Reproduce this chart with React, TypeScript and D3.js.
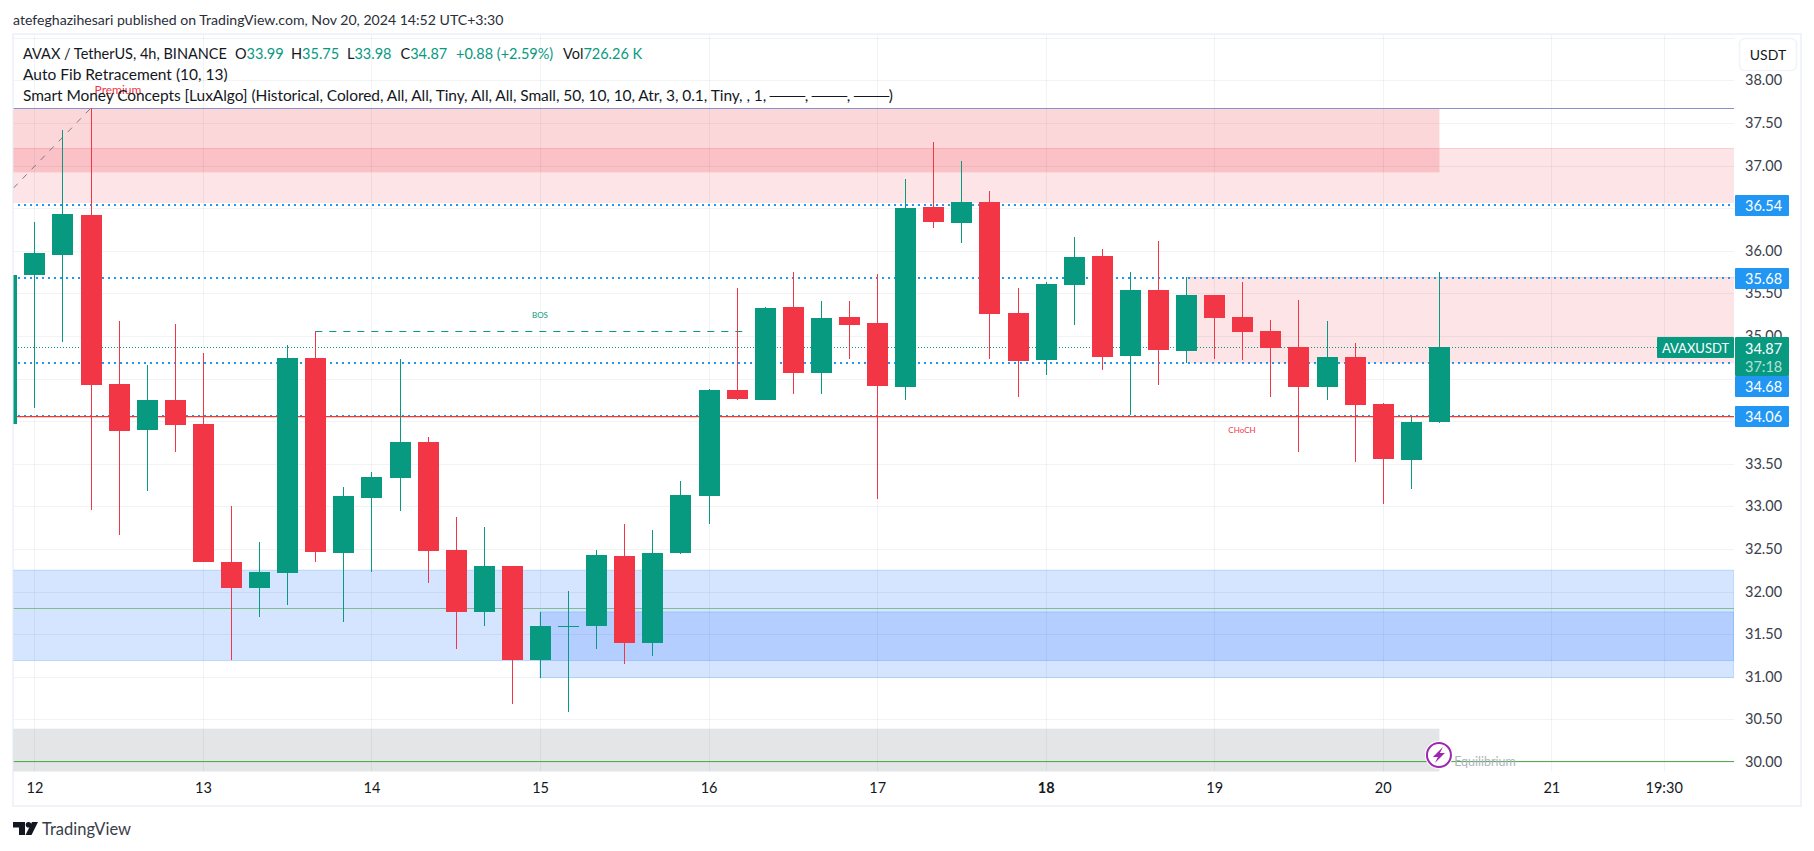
import * as d3 from 'd3';
import { useEffect, useRef } from 'react';

// 4h bars, barIndex 0 is the open of the 12th
const firstBar = -1;
const opens = [33.97, 35.71, 35.95, 36.42, 34.44, 33.90, 34.25, 33.97, 32.35, 32.04, 32.22, 34.74, 32.45, 33.10, 33.33, 33.75, 32.49, 31.76, 32.30, 31.20, 31.59, 31.59, 32.42, 31.40, 32.45, 33.12, 34.37, 34.25, 35.34, 34.56, 35.22, 35.15, 34.40, 36.51, 36.33, 36.57, 35.27, 34.72, 35.60, 35.94, 34.76, 35.54, 34.82, 35.48, 35.22, 35.06, 34.87, 34.40, 34.75, 34.20, 33.54, 33.99];
const highs = [35.71, 36.34, 37.42, 37.67, 35.17, 34.66, 35.14, 34.80, 33.00, 32.58, 34.89, 35.06, 33.23, 33.40, 34.73, 33.81, 32.87, 32.76, 32.30, 31.76, 32.01, 32.49, 32.79, 32.72, 33.30, 34.38, 35.56, 35.34, 35.75, 35.41, 35.41, 35.73, 36.84, 37.28, 37.05, 36.70, 35.56, 35.63, 36.16, 36.02, 35.75, 36.11, 35.69, 35.48, 35.63, 35.19, 35.42, 35.17, 34.92, 34.21, 34.05, 35.75];
const lows = [33.97, 34.15, 34.93, 32.96, 32.66, 33.18, 33.64, 32.35, 31.20, 31.70, 31.84, 32.35, 31.64, 32.23, 32.94, 32.10, 31.33, 31.59, 30.68, 30.98, 30.59, 31.33, 31.15, 31.24, 32.44, 32.79, 34.25, 34.25, 34.32, 34.32, 34.73, 33.09, 34.25, 36.27, 36.09, 34.73, 34.28, 34.54, 35.13, 34.60, 34.07, 34.42, 34.68, 34.73, 34.72, 34.28, 33.64, 34.25, 33.52, 33.03, 33.20, 33.98];
const closes = [35.71, 35.97, 36.43, 34.42, 33.88, 34.25, 33.95, 32.35, 32.04, 32.23, 34.74, 32.46, 33.12, 33.34, 33.75, 32.48, 31.76, 32.30, 31.20, 31.59, 31.60, 32.43, 31.40, 32.45, 33.13, 34.37, 34.26, 35.33, 34.56, 35.21, 35.13, 34.41, 36.50, 36.34, 36.57, 35.26, 34.71, 35.61, 35.93, 34.75, 35.54, 34.83, 35.48, 35.21, 35.05, 34.86, 34.40, 34.75, 34.19, 33.56, 33.99, 34.87];

const priceTicks = [38.5, 38, 37.5, 37, 36.5, 36, 35.5, 35, 34.5, 34, 33.5, 33, 32.5, 32, 31.5, 31, 30.5, 30];
const priceLabels = [38, 37.5, 37, 36, 35.5, 35, 33.5, 33, 32.5, 32, 31.5, 31, 30.5, 30];
const timeBars = [0, 6, 12, 18, 24, 30, 36, 42, 48, 54, 58];
const timeLabels = ['12', '13', '14', '15', '16', '17', '18', '19', '20', '21', '19:30'];

const fibLevels = [36.54, 35.68, 34.68, 34.06];
const lastPrice = 34.87;
const swingHigh = 37.67;
const swingLine = 31.81;
const equilibrium = 30.01;
const chochLevel = 34.06;
const bosLevel = 35.06;

// zones: [fromBar, toBar | null, top, bottom]
const redZones = [
  [-2, 50, 37.67, 36.92, 0.2],
  [-2, null, 37.205, 36.56, 0.134],
  [41, null, 35.69, 34.68, 0.134],
];
const blueZones = [
  [-2, null, 32.25, 31.19],
  [18, null, 31.76, 30.99],
];
const greyZone = [-2, 50, 30.39, 29.5];

const legendMain = 'AVAX / TetherUS, 4h, BINANCE';
const legendOhlc = [['O', '33.99', 235], ['H', '35.75', 291], ['L', '33.98', 347], ['C', '34.87', 400.5]];
const legendChange = '+0.88 (+2.59%)';
const legendFib = 'Auto Fib Retracement (10, 13)';
const legendSmc = 'Smart Money Concepts [LuxAlgo] (Historical, Colored, All, All, Tiny, All, All, Small, 50, 10, 10, Atr, 3, 0.1, Tiny, , 1, ───, ───, ───)';

const UP = '#089981';
const DOWN = '#f23645';
const FONT = 'Lato, "Open Sans", sans-serif';

const App = () => {
  const ref = useRef<SVGSVGElement>(null);

  useEffect(() => {
    const svg = d3.select(ref.current);
    svg.selectAll('*').remove();

    const paneL = 13.5, paneR = 1734, paneT = 35, paneB = 771.5;
    const x = d3.scaleLinear().domain([0, 54]).range([34.4, 1551.3]);
    const y = d3.scaleLinear().domain([38, 30]).range([80.3, 761.9]);

    svg.append('rect').attr('width', 1814).attr('height', 851).attr('fill', '#fff');
    svg.append('rect').attr('x', 13).attr('y', 34).attr('width', 1788).attr('height', 772)
      .attr('fill', '#fff').attr('stroke', '#f0f3fa').attr('stroke-width', 2);

    svg.append('clipPath').attr('id', 'pane').append('rect')
      .attr('x', paneL).attr('y', paneT).attr('width', paneR - paneL).attr('height', paneB - paneT);

    svg.append('text').attr('x', 13).attr('y', 25).attr('font-size', 14.1).attr('fill', '#2a2e39')
      .attr('font-family', FONT)
      .text('atefeghazihesari published on TradingView.com, Nov 20, 2024 14:52 UTC+3:30');

    const chart = svg.append('g').attr('clip-path', 'url(#pane)');

    // smart money zones
    const zoneX2 = (to: number | null) => (to === null ? paneR : x(to) + 0.5);
    chart.append('g').selectAll('rect').data(redZones).join('rect')
      .attr('x', d => x(d[0] as number)).attr('y', d => y(d[2] as number))
      .attr('width', d => zoneX2(d[1]) - x(d[0] as number))
      .attr('height', d => y(d[3] as number) - y(d[2] as number))
      .attr('fill', DOWN).attr('fill-opacity', d => d[4]);
    chart.append('g').selectAll('line').data(redZones.slice(1)).join('line')
      .attr('x1', paneL).attr('x2', paneR)
      .attr('y1', d => Math.round(y(d[2] as number)) + 0.5).attr('y2', d => Math.round(y(d[2] as number)) + 0.5)
      .attr('stroke', DOWN).attr('stroke-opacity', 0.14)
      .filter((_, i) => i === 1).attr('x1', x(41));
    chart.append('g').selectAll('rect').data(blueZones).join('rect')
      .attr('x', d => x(d[0] as number)).attr('y', d => y(d[2] as number))
      .attr('width', d => zoneX2(d[1]) - x(d[0] as number))
      .attr('height', d => y(d[3] as number) - y(d[2] as number))
      .attr('fill', '#1f70ff').attr('fill-opacity', 0.19)
      .attr('stroke', '#2196f3').attr('stroke-opacity', 0.25);
    chart.append('rect')
      .attr('x', x(greyZone[0])).attr('y', y(greyZone[2]))
      .attr('width', x(greyZone[1]) + 0.5 - x(greyZone[0]))
      .attr('height', y(greyZone[3]) - y(greyZone[2]))
      .attr('fill', '#787b86').attr('fill-opacity', 0.2);

    // grid sits over the zones, it shows through them in the original
    chart.append('g').selectAll('line').data(priceTicks).join('line')
      .attr('x1', paneL).attr('x2', paneR)
      .attr('y1', d => Math.round(y(d)) + 0.5).attr('y2', d => Math.round(y(d)) + 0.5)
      .attr('stroke', '#2a2e39').attr('stroke-opacity', 0.06);
    chart.append('g').selectAll('line').data(timeBars).join('line')
      .attr('y1', paneT).attr('y2', paneB)
      .attr('x1', d => Math.round(x(d)) + 0.5).attr('x2', d => Math.round(x(d)) + 0.5)
      .attr('stroke', '#2a2e39').attr('stroke-opacity', 0.06);

    // structure lines
    const hline = (p: number, color: string, w: number, dash: string | null, from: number = paneL) =>
      chart.append('line').attr('x1', from).attr('x2', paneR)
        .attr('y1', Math.round(y(p)) + (w === 2 ? 0 : 0.5)).attr('y2', Math.round(y(p)) + (w === 2 ? 0 : 0.5))
        .attr('stroke', color).attr('stroke-width', w).attr('stroke-dasharray', dash);

    hline(swingHigh, '#8594c4', 1, null);
    hline(swingLine, '#83bd8b', 1, null);
    hline(equilibrium, '#4caf50', 1, null);
    hline(lastPrice, UP, 1, '1 2', 18);
    fibLevels.slice(0, 3).forEach(p => hline(p, '#2196f3', 2, '2 4', 18));
    chart.append('line').attr('x1', 18).attr('x2', paneR)
      .attr('y1', Math.round(y(chochLevel)) - 0.5).attr('y2', Math.round(y(chochLevel)) - 0.5)
      .attr('stroke', '#2196f3').attr('stroke-width', 1).attr('stroke-dasharray', '2 4');
    chart.append('line').attr('x1', 17).attr('x2', paneR)
      .attr('y1', Math.round(y(chochLevel)) + 0.6).attr('y2', Math.round(y(chochLevel)) + 0.6)
      .attr('stroke', '#f9352f').attr('stroke-width', 1.3);

    chart.append('line')
      .attr('x1', paneL).attr('y1', 188).attr('x2', x(2)).attr('y2', y(swingHigh))
      .attr('stroke', '#787b86').attr('stroke-dasharray', '6 7');
    chart.append('line')
      .attr('x1', x(10)).attr('x2', x(25.4))
      .attr('y1', Math.round(y(bosLevel)) + 0.5).attr('y2', Math.round(y(bosLevel)) + 0.5)
      .attr('stroke', UP).attr('stroke-dasharray', '7 7');

    // candles
    const bars = opens.map((o, i) => ({ bar: firstBar + i, o, h: highs[i], l: lows[i], c: closes[i] }));
    const colorOf = d => (closes[d.bar - firstBar] >= d.o ? UP : DOWN);
    const g = chart.append('g').attr('shape-rendering', 'crispEdges');
    g.selectAll('line').data(bars).join('line')
      .attr('x1', d => Math.round(x(d.bar)) + 0.5).attr('x2', d => Math.round(x(d.bar)) + 0.5)
      .attr('y1', d => y(d.h)).attr('y2', d => y(d.l))
      .attr('stroke', colorOf);
    g.selectAll('rect').data(bars).join('rect')
      .attr('x', d => Math.round(x(d.bar)) - 10).attr('width', 21)
      .attr('y', d => Math.round(y(Math.max(d.o, d.c))))
      .attr('height', d => Math.max(1, Math.round(y(Math.min(d.o, d.c))) - Math.round(y(Math.max(d.o, d.c)))))
      .attr('fill', colorOf);

    // chart labels
    const label = (tx: number, ty: number, s: string, size: number, fill: string) =>
      svg.append('text').attr('x', tx).attr('y', ty).attr('text-anchor', 'middle')
        .attr('dominant-baseline', 'central').attr('font-family', FONT)
        .attr('font-size', size).attr('fill', fill).text(s);
    label(118, 89, 'Premium', 12, '#f23645');
    label(540, 315, 'BOS', 8, UP);
    label(1242, 430, 'CHoCH', 8, '#f23645');
    label(1485, 761, 'Equilibrium', 12.5, '#b2b5be');

    // earnings style marker on the last bar
    const marker = svg.append('g').attr('transform', `translate(${x(50)},${755})`);
    marker.append('circle').attr('r', 14).attr('fill', '#fff');
    marker.append('circle').attr('r', 12).attr('fill', '#fff').attr('stroke', '#9c27b0').attr('stroke-width', 2);
    marker.append('path').attr('d', 'M4 -8 L-6 2 L-1 2 L-4 8 L6 -2 L1 -2 Z').attr('fill', '#9c27b0');

    // price axis
    const axisRight = svg.append('g')
      .attr('transform', `translate(${paneR},0)`)
      .call(d3.axisRight(y).tickValues(priceLabels).tickSize(0).tickPadding(11).tickFormat(d3.format('.2f')));
    axisRight.select('.domain').remove();
    axisRight.selectAll('text').attr('font-family', FONT).attr('font-size', 14.5).attr('fill', '#3a3e49');

    // time axis
    const axisBottom = svg.append('g')
      .attr('transform', `translate(0,${paneB})`)
      .call(d3.axisBottom(x).tickValues(timeBars).tickSize(0).tickPadding(11)
        .tickFormat((_, i) => timeLabels[i]));
    axisBottom.select('.domain').remove();
    axisBottom.selectAll('text').attr('font-family', FONT).attr('font-size', 14.5).attr('fill', '#131722')
      .attr('font-weight', (_, i) => (timeLabels[i] === '18' ? 700 : 400));

    // price tags
    const tag = (tx: number, top: number, w: number, h: number, fill: string) =>
      svg.append('rect').attr('x', tx).attr('y', top).attr('width', w).attr('height', h).attr('rx', 1).attr('fill', fill);
    const tagText = (tx: number, ty: number, s: string, fill: string, anchor = 'start', size = 14.5) =>
      svg.append('text').attr('x', tx).attr('y', ty).attr('dominant-baseline', 'central').attr('text-anchor', anchor)
        .attr('font-family', FONT).attr('font-size', size).attr('fill', fill).text(s);
    [[36.54, 195], [35.68, 268], [34.68, 376], [34.06, 406]].forEach(([p, top]) => {
      tag(1735, top, 54, 21, '#2196f3');
      tagText(1745, top + 10.5, p.toFixed(2), '#fff');
    });
    tag(1735, 337, 54, 39, UP);
    tagText(1745, 348, lastPrice.toFixed(2), '#fff');
    tagText(1745, 366, '37:18', '#b5e0d8');
    tag(1657, 337, 77, 21, UP);
    tagText(1695.5, 347.5, 'AVAXUSDT', '#fff', 'middle', 13);

    svg.append('rect').attr('x', 1739.5).attr('y', 38.5).attr('width', 57).attr('height', 32).attr('rx', 5)
      .attr('fill', '#fff').attr('stroke', '#f0f3fa').attr('stroke-width', 1.5);
    label(1768, 54.5, 'USDT', 14, '#131722');

    // legend
    const legendText = (tx: number, ty: number, s: string, fill = '#131722', size = 14.5) =>
      svg.append('text').attr('x', tx).attr('y', ty).attr('font-family', FONT).attr('font-size', size).attr('fill', fill).text(s);
    legendText(23, 59, legendMain);
    legendOhlc.forEach(([k, v, lx]) => {
      const t = legendText(lx as number, 59, k as string);
      t.append('tspan').attr('fill', UP).text(v as string);
    });
    legendText(456, 59, legendChange, UP);
    legendText(563, 59, 'Vol').append('tspan').attr('fill', UP).text('726.26 K');
    legendText(23, 80, legendFib, '#131722', 15.5);
    legendText(23, 101, legendSmc, '#131722', 15.5).attr('textLength', 870).attr('lengthAdjust', 'spacing');

    // footer logo
    const logo = svg.append('g').attr('transform', 'translate(13,822)').attr('fill', '#131722');
    logo.append('path').attr('d', 'M0 0 H12 V13 H6 V5.5 H0 Z');
    logo.append('circle').attr('cx', 15.5).attr('cy', 2.8).attr('r', 2.8);
    logo.append('path').attr('d', 'M19 0 H25 L18.5 13 H12.5 Z');
    svg.append('text').attr('x', 42).attr('y', 835).attr('font-family', FONT).attr('font-size', 16.5).attr('fill', '#3a3e49').text('TradingView');
  }, []);

  return <svg ref={ref} width={1814} height={851} style={{ position: 'absolute', left: 0, top: 0, display: 'block' }} />;
};

export default App;
